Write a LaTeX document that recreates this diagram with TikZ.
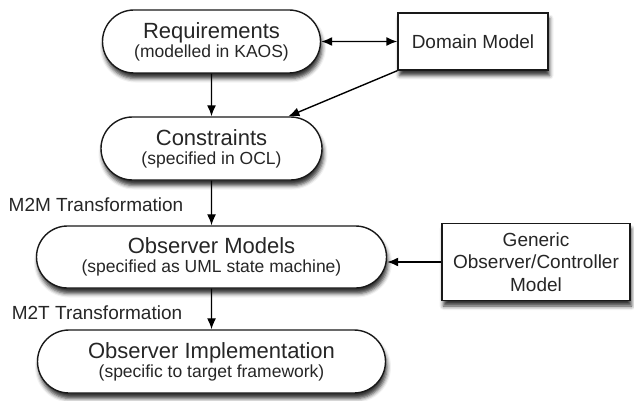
\documentclass[tikz,border=0pt]{standalone}
\usepackage{fontspec}
\setmainfont{Liberation Sans}
\usepackage{tikz}
\usetikzlibrary{arrows.meta,shapes.misc,shadows,shadows.blur}

\newcommand{\boxhead}{\fontsize{22}{22}\selectfont}
\newcommand{\boxsub}{\fontsize{17.5}{19}\selectfont}

\begin{document}
\begin{tikzpicture}
[x=1pt,y=-1pt,>={Latex[length=11pt,width=9pt]},
 line width=1.4pt,
 stage/.style={rounded rectangle,draw=black!90,fill=white,text=black!85,align=center,
   inner sep=0pt,minimum height=63pt,font=\boxsub,
   blur shadow={shadow xshift=1.5pt,shadow yshift=-5.5pt,shadow blur radius=4pt,shadow opacity=80}},
 model/.style={rectangle,draw=black!90,fill=white,text=black!85,align=center,
   inner sep=0pt,font=\fontsize{19}{22.5}\selectfont,
   blur shadow={shadow xshift=1.5pt,shadow yshift=-5.5pt,shadow blur radius=4pt,shadow opacity=80}},
 trans/.style={text=black!85,font=\fontsize{19}{22}\selectfont,inner sep=0pt}]
\useasboundingbox (0,0) rectangle (634,401);

\node[stage,minimum width=218pt] (req) at (211.5,41.5) {{\boxhead Requirements}\\(modelled in KAOS)};
\node[stage,minimum width=221pt] (con) at (211.5,148.5) {{\boxhead Constraints}\\(specified in OCL)};
\node[stage,minimum width=350pt,minimum height=62pt] (obs) at (211.5,257) {{\boxhead Observer Models}\\(specified as UML state machine)};
\node[stage,minimum width=348pt] (impl) at (211.5,361.5) {{\boxhead Observer Implementation}\\(specific to target framework)};

\node[model,minimum width=150pt,minimum height=57pt] (dom) at (473,41.5) {Domain Model};
\node[model,minimum width=188pt,minimum height=77pt] (gen) at (536,262) {Generic\\Observer/Controller\\Model};

\node[trans] (m2m) at (96,205) {M2M Transformation};
\node[trans] (m2t) at (97,313) {M2T Transformation};

\draw [<->] (req) -- (dom);
\draw [->] (dom.south west) -- (con);
\draw [->] (req) -- (con);
\draw [->] (con) -- (obs);
\draw [->] (gen.west) -- (gen.west -| obs.east);
\draw [->] (obs) -- (impl);
\end{tikzpicture}
\end{document}
